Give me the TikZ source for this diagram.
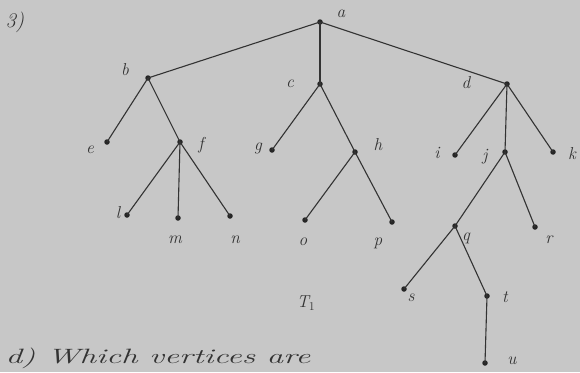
\documentclass[tikz,border=0pt]{standalone}
\begin{document}
\begin{tikzpicture}[x=1pt,y=-1pt,
  vtx/.style={circle,fill=black!85,inner sep=0pt,minimum size=5.5pt},
  lbl/.style={font=\LARGE\itshape,text=black!80},
  edge/.style={draw=black!80,line width=1.1pt}]
\clip (0,0) rectangle (580,372);
\fill[black!18!white!88!gray] (0,0) rectangle (580,372);
% vertices
\node[vtx] (a) at (320,22) {};
\node[vtx] (b) at (148,78) {};
\node[vtx] (c) at (320,84) {};
\node[vtx] (d) at (507,84) {};
\node[vtx] (e) at (107,142) {};
\node[vtx] (f) at (180,142) {};
\node[vtx] (g) at (272,150) {};
\node[vtx] (h) at (355,152) {};
\node[vtx] (i) at (455,155) {};
\node[vtx] (j) at (505,152) {};
\node[vtx] (k) at (553,152) {};
\node[vtx] (l) at (127,215) {};
\node[vtx] (m) at (178,218) {};
\node[vtx] (n) at (230,216) {};
\node[vtx] (o) at (305,220) {};
\node[vtx] (p) at (392,222) {};
\node[vtx] (q) at (455,226) {};
\node[vtx] (r) at (535,227) {};
\node[vtx] (s) at (404,289) {};
\node[vtx] (t) at (487,296) {};
\node[vtx] (u) at (485,363) {};
% edges
\draw[edge] (a.center) -- (b.center);
\draw[edge] (a.center) -- (c.center);
\draw[edge] (a.center) -- (d.center);
\draw[edge] (b.center) -- (e.center);
\draw[edge] (b.center) -- (f.center);
\draw[edge] (f.center) -- (l.center);
\draw[edge] (f.center) -- (m.center);
\draw[edge] (f.center) -- (n.center);
\draw[edge] (c.center) -- (g.center);
\draw[edge] (c.center) -- (h.center);
\draw[edge] (h.center) -- (o.center);
\draw[edge] (h.center) -- (p.center);
\draw[edge] (d.center) -- (i.center);
\draw[edge] (d.center) -- (j.center);
\draw[edge] (d.center) -- (k.center);
\draw[edge] (j.center) -- (q.center);
\draw[edge] (j.center) -- (r.center);
\draw[edge] (q.center) -- (s.center);
\draw[edge] (q.center) -- (t.center);
\draw[edge] (t.center) -- (u.center);
% labels
\node[lbl] (la) at (341,14) {a};
\node[lbl] (lb) at (125,70) {b};
\node[lbl] (lc) at (290,84) {c};
\node[lbl] (ld) at (466,83) {d};
\node[lbl] (le) at (90,150) {e};
\node[lbl] (lf) at (201,145) {f};
\node[lbl] (lg) at (258,148) {g};
\node[lbl] (lh) at (378,145) {h};
\node[lbl] (li) at (437,153) {i};
\node[lbl] (lj) at (485,157) {j};
\node[lbl] (lk) at (572,154) {k};
\node[lbl] (ll) at (118,213) {l};
\node[lbl] (lm) at (175,240) {m};
\node[lbl] (ln) at (235,240) {n};
\node[lbl] (lo) at (303,242) {o};
\node[lbl] (lp) at (378,243) {p};
\node[lbl] (lq) at (466,238) {q};
\node[lbl] (lr) at (549,240) {r};
\node[lbl] (ls) at (411,298) {s};
\node[lbl] (lt) at (505,297) {t};
\node[lbl] (lu) at (512,361) {u};
\node[lbl] (T1) at (306,303) {T$_1$};
\node[lbl,font=\huge\itshape,anchor=west] (q3) at (2,22) {3)};
\node[lbl,font=\huge\itshape,anchor=base west,transform shape,xscale=1.6] (qd) at (0,363) {d) Which vertices are};
\end{tikzpicture}
\end{document}
